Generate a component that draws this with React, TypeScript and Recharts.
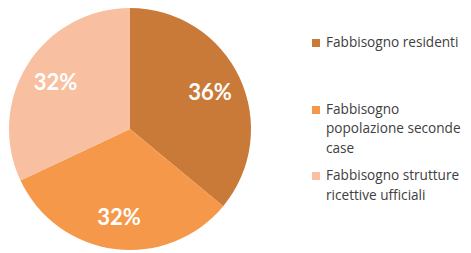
import { PieChart, Pie, Cell, Legend } from 'recharts';

const categories = [
    'Fabbisogno residenti',
    'Fabbisogno popolazione seconde case',
    'Fabbisogno strutture ricettive ufficiali',
];
const values = [36, 32, 32];
const colors = ['#C97A38', '#F5984A', '#F8C0A0'];

const data = categories.map((name, i) => ({ name, value: values[i] }));

const RADIAN = Math.PI / 180;

function renderLabel(props: any) {
    const { cx, cy, midAngle, outerRadius, percent } = props;
    const r = outerRadius * 0.73;
    const x = cx + r * Math.cos(-midAngle * RADIAN);
    const y = cy + r * Math.sin(-midAngle * RADIAN);
    return (
        <text
            x={x}
            y={y}
            fill="#ffffff"
            textAnchor="middle"
            dominantBaseline="central"
            style={{ fontFamily: 'Lato, sans-serif', fontSize: 22, fontWeight: 700 }}
        >
            {Math.round(percent * 100)}%
        </text>
    );
}

// legend drawn from the arrays so the order stays as in the source
function renderLegend() {
    return (
        <div
            style={{
                fontFamily: '"Open Sans", sans-serif',
                fontSize: 13.6,
                color: '#404040',
                lineHeight: '19.5px',
            }}
        >
            {categories.map((name, i) => (
                <div key={i} style={{ display: 'flex', alignItems: 'flex-start', height: 66.5 }}>
                    <span
                        style={{
                            display: 'inline-block',
                            width: 8,
                            height: 8,
                            marginTop: 7,
                            marginRight: 6,
                            background: colors[i],
                            flex: 'none',
                        }}
                    />
                    <span style={{ width: 145 }}>{name}</span>
                </div>
            ))}
        </div>
    );
}

export default function App() {
    return (
        <div style={{ position: 'absolute', left: 0, top: 0, background: '#ffffff' }}>
            <PieChart width={471} height={253} margin={{ top: 0, right: 0, bottom: 0, left: 0 }}>
                <Pie
                    data={data}
                    dataKey="value"
                    nameKey="name"
                    cx={130}
                    cy={129}
                    outerRadius={121}
                    startAngle={90}
                    endAngle={-270}
                    stroke="none"
                    labelLine={false}
                    label={renderLabel}
                    isAnimationActive={false}
                >
                    {data.map((_, i) => (
                        <Cell key={i} fill={colors[i]} />
                    ))}
                </Pie>
                <Legend
                    layout="vertical"
                    content={renderLegend}
                    wrapperStyle={{ position: 'absolute', left: 312, top: 32, width: 159 }}
                />
            </PieChart>
        </div>
    );
}
